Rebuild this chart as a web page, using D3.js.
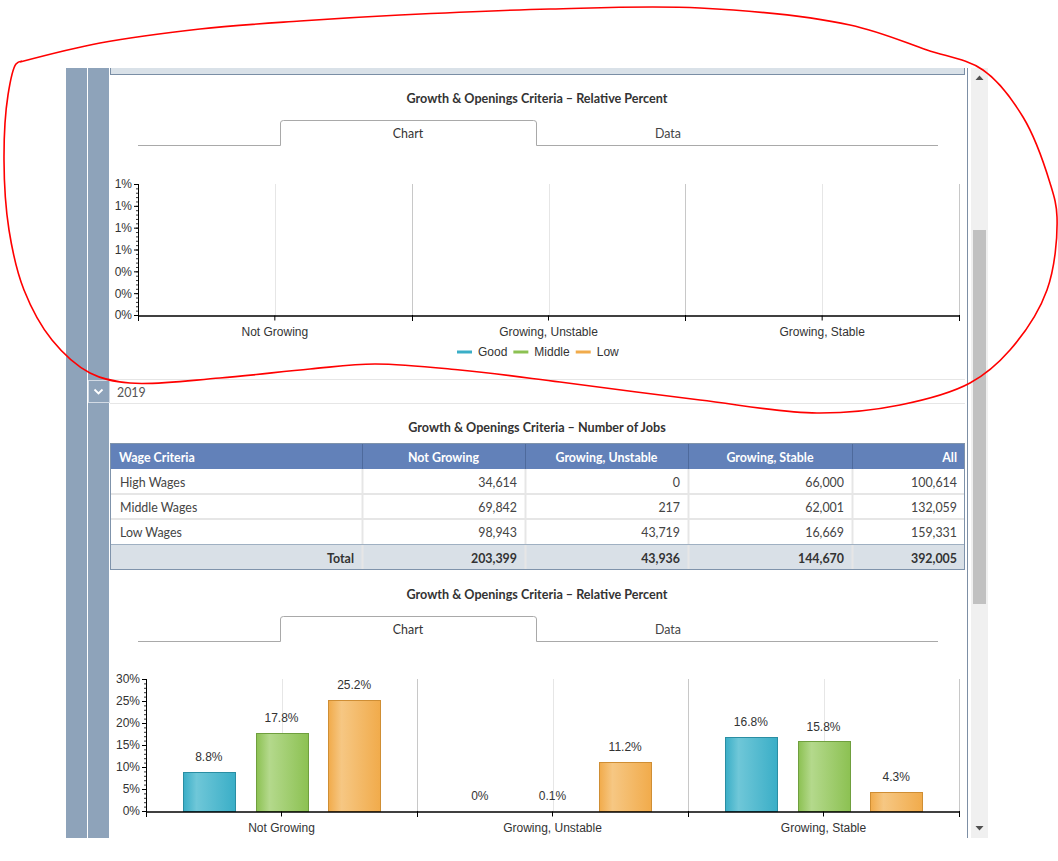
<!DOCTYPE html>
<html>
<head>
<meta charset="utf-8">
<script src="https://cdn.jsdelivr.net/npm/d3@7"></script>
<style>
  body { margin: 0; background: #fff; }
  svg { display: block; }
</style>
</head>
<body>
<script>
var categories = ['Not Growing', 'Growing, Unstable', 'Growing, Stable'];
var seriesNames = ['Good', 'Middle', 'Low'];
var seriesColors = ['#3aaec7', '#8cc152', '#f1ab4b'];
var seriesLight = ['#6fc7d8', '#b4d98c', '#f6c783'];
var seriesStroke = ['#2a8ea3', '#6f9f3e', '#cf8e34'];

// first chart (2018) has no values at all
var emptyGood = [null, null, null];
var emptyMiddle = [null, null, null];
var emptyLow = [null, null, null];
var emptyTicks = [0, 0.2, 0.4, 0.6, 0.8, 1.0, 1.2];

// second chart (2019), relative percent
var pctGood = [8.8, 0, 16.8];
var pctMiddle = [17.8, 0.1, 15.8];
var pctLow = [25.2, 11.2, 4.3];
var pctTicks = [0, 5, 10, 15, 20, 25, 30];

// table, number of jobs
var tableColumns = ['Wage Criteria', 'Not Growing', 'Growing, Unstable', 'Growing, Stable', 'All'];
var wageRows = ['High Wages', 'Middle Wages', 'Low Wages'];
var jobsNotGrowing = [34614, 69842, 98943];
var jobsUnstable = [0, 217, 43719];
var jobsStable = [66000, 62001, 16669];
var jobsAll = [100614, 132059, 159331];
var jobsTotal = [203399, 43936, 144670, 392005];

var uiFont = "Lato, 'Noto Sans', sans-serif";
var chartFont = "'Liberation Sans', Arial, sans-serif";

var svg = d3.select('body').append('svg')
    .attr('width', 1058)
    .attr('height', 861);

var defs = svg.append('defs');
seriesNames.forEach(function(s, i) {
  var gr = defs.append('linearGradient')
      .attr('id', 'grad' + i)
      .attr('x1', '0%').attr('x2', '100%').attr('y1', '0%').attr('y2', '0%');
  gr.append('stop').attr('offset', '0%').attr('stop-color', seriesColors[i]);
  gr.append('stop').attr('offset', '25%').attr('stop-color', seriesLight[i]);
  gr.append('stop').attr('offset', '100%').attr('stop-color', seriesColors[i]);
});

// page frame: side bars, top strip, right border, scrollbar
svg.append('rect').attr('x', 66).attr('y', 68).attr('width', 21).attr('height', 770).attr('fill', '#8ea3ba');
svg.append('rect').attr('x', 88).attr('y', 68).attr('width', 21).attr('height', 770).attr('fill', '#8ea3ba');
svg.append('rect').attr('x', 110).attr('y', 68).attr('width', 855).attr('height', 6)
    .attr('fill', '#d9e1e8');
svg.append('line').attr('x1', 110).attr('x2', 965).attr('y1', 74.5).attr('y2', 74.5).attr('stroke', '#7a8ea5');
svg.append('line').attr('x1', 110.5).attr('x2', 110.5).attr('y1', 68).attr('y2', 75).attr('stroke', '#7a8ea5');
svg.append('line').attr('x1', 964.5).attr('x2', 964.5).attr('y1', 68).attr('y2', 75).attr('stroke', '#7a8ea5');
svg.append('line').attr('x1', 967.5).attr('x2', 967.5).attr('y1', 68).attr('y2', 838).attr('stroke', '#7d8fa5');

svg.append('rect').attr('x', 971).attr('y', 68).attr('width', 17).attr('height', 770).attr('fill', '#f0f0f0');
svg.append('rect').attr('x', 973).attr('y', 230).attr('width', 13).attr('height', 374).attr('fill', '#c1c1c1');
svg.append('path').attr('d', 'M975.5,80 L979.5,75.5 L983.5,80 Z').attr('fill', '#505050');
svg.append('path').attr('d', 'M975.5,826 L979.5,830.5 L983.5,826 Z').attr('fill', '#505050');

function title(y, text) {
  svg.append('text')
      .attr('x', 537).attr('y', y).attr('dy', '0.35em')
      .attr('text-anchor', 'middle')
      .style('font', 'bold 12.6px ' + uiFont)
      .attr('fill', '#333')
      .text(text);
}

function tabs(yTop, yBase) {
  var g = svg.append('g').attr('fill', 'none').attr('stroke', '#a9a9a9');
  g.append('path').attr('d',
      'M138,' + (yBase + 0.5) + ' H280.5 V' + (yTop + 3) +
      ' Q280.5,' + (yTop + 0.5) + ' 283.5,' + (yTop + 0.5) +
      ' H533.5 Q536.5,' + (yTop + 0.5) + ' 536.5,' + (yTop + 3) +
      ' V' + (yBase + 0.5) + ' H938');
  svg.append('text').attr('x', 408).attr('y', yTop + 14).attr('dy', '0.35em')
      .attr('text-anchor', 'middle').style('font', '12.4px ' + uiFont).attr('fill', '#333').text('Chart');
  svg.append('text').attr('x', 668).attr('y', yTop + 14).attr('dy', '0.35em')
      .attr('text-anchor', 'middle').style('font', '12.4px ' + uiFont).attr('fill', '#444').text('Data');
}

function drawChart(opts) {
  var x = d3.scaleBand().domain(categories).range([opts.left, 959]);
  var x1 = d3.scaleBand().domain(seriesNames)
      .range([37, x.bandwidth() - 37]).paddingInner(0.29);
  var ticks = opts.ticks;
  var y = d3.scaleLinear().domain([0, ticks[ticks.length - 1]]).range([opts.bottom, opts.top]);
  var g = svg.append('g');

  // vertical grid lines
  categories.forEach(function(c) {
    g.append('line')
        .attr('x1', Math.round(x(c) + x.bandwidth() / 2) + 0.5)
        .attr('x2', Math.round(x(c) + x.bandwidth() / 2) + 0.5)
        .attr('y1', opts.top).attr('y2', opts.bottom)
        .attr('stroke', '#e6e6e6');
    g.append('line')
        .attr('x1', Math.round(x(c) + x.bandwidth()) + 0.5)
        .attr('x2', Math.round(x(c) + x.bandwidth()) + 0.5)
        .attr('y1', opts.top).attr('y2', opts.bottom)
        .attr('stroke', '#c8c8c8');
  });

  // bars
  var values = [opts.good, opts.middle, opts.low];
  categories.forEach(function(c, ci) {
    seriesNames.forEach(function(s, si) {
      var v = values[si][ci];
      if (v === null) return;
      var bx = x(c) + x1(s);
      if (y(0) - y(v) > 1) {
        g.append('rect')
            .attr('x', Math.round(bx) + 0.5)
            .attr('y', Math.round(y(v)) + 0.5)
            .attr('width', Math.round(x1.bandwidth()))
            .attr('height', Math.round(y(0)) - Math.round(y(v)))
            .attr('fill', 'url(#grad' + si + ')')
            .attr('stroke', seriesStroke[si]);
      }
      g.append('text')
          .attr('x', bx + x1.bandwidth() / 2)
          .attr('y', y(v) - 15).attr('dy', '0.35em')
          .attr('text-anchor', 'middle')
          .style('font', '12px ' + chartFont)
          .attr('fill', '#333')
          .text(v + '%');
    });
  });

  // y axis with minor ticks
  var yMinor = d3.range(0, ticks[ticks.length - 1] + 1e-9, opts.minorStep);
  var minor = g.append('g')
      .attr('transform', 'translate(' + opts.left + ',0)')
      .call(d3.axisLeft(y).tickValues(yMinor).tickSize(2).tickFormat(''));
  minor.select('.domain').remove();
  minor.selectAll('line').attr('stroke', '#333');

  var yAxis = g.append('g')
      .attr('transform', 'translate(' + opts.left + ',0)')
      .call(d3.axisLeft(y).tickValues(ticks).tickSize(4).tickPadding(2)
        .tickFormat(function(d) { return d3.format('.0f')(d) + '%'; }));
  yAxis.select('.domain').attr('stroke', '#000').attr('d', 'M0.5,' + opts.top + 'V' + opts.bottom);
  yAxis.selectAll('text').style('font', '12px ' + chartFont).attr('fill', '#333');

  // x axis
  var xAxis = g.append('g')
      .attr('transform', 'translate(0,' + (opts.bottom + 0.5) + ')')
      .call(d3.axisBottom(x).tickSize(5).tickPadding(7).tickSizeOuter(0));
  xAxis.select('.domain').attr('stroke', '#000').attr('stroke-width', 1.5);
  xAxis.selectAll('line').attr('stroke', '#000');
  xAxis.selectAll('text').style('font', '12px ' + chartFont).attr('fill', '#333');
  categories.forEach(function(c) {
    var bx = Math.round(x(c) + x.bandwidth()) + 0.5;
    g.append('line').attr('x1', bx).attr('x2', bx)
        .attr('y1', opts.bottom).attr('y2', opts.bottom + 6).attr('stroke', '#000');
  });
  g.append('line').attr('x1', opts.left + 0.5).attr('x2', opts.left + 0.5)
      .attr('y1', opts.bottom).attr('y2', opts.bottom + 6).attr('stroke', '#000');

  if (opts.legend) {
    var lg = svg.append('g').style('font', '12px ' + chartFont);
    var lx = 457;
    seriesNames.forEach(function(s, i) {
      lg.append('line').attr('x1', lx).attr('x2', lx + 15)
          .attr('y1', opts.legend).attr('y2', opts.legend)
          .attr('stroke', seriesColors[i]).attr('stroke-width', 3);
      var t = lg.append('text').attr('x', lx + 21).attr('y', opts.legend).attr('dy', '0.35em')
          .attr('fill', '#333').text(s);
      lx += 21 + t.node().getComputedTextLength() + 6;
    });
  }
}

// ---- block 1: empty relative percent chart
title(99, 'Growth & Openings Criteria \u2013 Relative Percent');
tabs(120, 145);
drawChart({ left: 138, top: 184, bottom: 315, ticks: emptyTicks, minorStep: 0.04,
  good: emptyGood, middle: emptyMiddle, low: emptyLow, legend: 352 });

// ---- 2019 row
svg.append('line').attr('x1', 110).attr('x2', 965).attr('y1', 379.5).attr('y2', 379.5).attr('stroke', '#e6e6e6');
svg.append('line').attr('x1', 110).attr('x2', 965).attr('y1', 403.5).attr('y2', 403.5).attr('stroke', '#e6e6e6');
svg.append('rect').attr('x', 88.5).attr('y', 380.5).attr('width', 21).attr('height', 22)
    .attr('fill', '#8ea3ba').attr('stroke', '#d2dae4');
svg.append('path').attr('d', 'M94.5,389.5 L98.5,393.5 L102.5,389.5')
    .attr('fill', 'none').attr('stroke', '#fff').attr('stroke-width', 1.8);
svg.append('text').attr('x', 117).attr('y', 393).attr('dy', '0.35em')
    .style('font', '12.4px ' + uiFont).attr('fill', '#555').text('2019');

// ---- table
title(428, 'Growth & Openings Criteria \u2013 Number of Jobs');
var colEdges = [110, 362, 525, 688, 852, 965];
var rowTops = [469, 494, 519];
var tableData = wageRows.map(function(r, i) {
  return [r, jobsNotGrowing[i], jobsUnstable[i], jobsStable[i], jobsAll[i]];
});
var fmt = d3.format(',');
var tg = svg.append('g').style('font', '12.4px ' + uiFont);

tg.append('rect').attr('x', 110).attr('y', 443).attr('width', 855).attr('height', 26).attr('fill', '#6281b9');
tg.append('rect').attr('x', 110).attr('y', 544).attr('width', 855).attr('height', 26).attr('fill', '#d9e0e7');
colEdges.slice(1, -1).forEach(function(cx) {
  tg.append('line').attr('x1', cx + 0.5).attr('x2', cx + 0.5).attr('y1', 443).attr('y2', 469).attr('stroke', '#4e6a9c');
  tg.append('line').attr('x1', cx + 0.5).attr('x2', cx + 0.5).attr('y1', 469).attr('y2', 570).attr('stroke', '#e6e6e6').attr('stroke-width', 2);
});
[494, 519].forEach(function(ry) {
  tg.append('line').attr('x1', 110).attr('x2', 965).attr('y1', ry).attr('y2', ry).attr('stroke', '#e6e6e6').attr('stroke-width', 2);
});
tg.append('line').attr('x1', 110).attr('x2', 965).attr('y1', 544.5).attr('y2', 544.5).attr('stroke', '#9fb0c2');
tg.append('rect').attr('x', 110.5).attr('y', 443.5).attr('width', 854).attr('height', 126)
    .attr('fill', 'none').attr('stroke', '#7f93ab');

tableColumns.forEach(function(c, i) {
  var t = tg.append('text').attr('y', 458).attr('dy', '0.35em')
      .attr('fill', '#fff').style('font-weight', 'bold').text(c);
  if (i === 0) t.attr('x', colEdges[0] + 9);
  else if (i === tableColumns.length - 1) t.attr('x', colEdges[i + 1] - 8).attr('text-anchor', 'end');
  else t.attr('x', (colEdges[i] + colEdges[i + 1]) / 2).attr('text-anchor', 'middle');
});

tableData.forEach(function(row, ri) {
  row.forEach(function(v, ci) {
    var t = tg.append('text').attr('y', rowTops[ri] + 14).attr('dy', '0.35em').attr('fill', '#444');
    if (ci === 0) t.attr('x', colEdges[0] + 10).text(v);
    else t.attr('x', colEdges[ci + 1] - 8).attr('text-anchor', 'end').text(fmt(v));
  });
});
tg.append('text').attr('x', colEdges[1] - 8).attr('y', 559).attr('dy', '0.35em')
    .attr('text-anchor', 'end').attr('fill', '#333').style('font-weight', 'bold').text('Total');
jobsTotal.forEach(function(v, i) {
  tg.append('text').attr('x', colEdges[i + 2] - 8).attr('y', 559).attr('dy', '0.35em')
      .attr('text-anchor', 'end').attr('fill', '#333').style('font-weight', 'bold').text(fmt(v));
});

// ---- block 2: relative percent chart
title(595, 'Growth & Openings Criteria \u2013 Relative Percent');
tabs(616, 641);
drawChart({ left: 146, top: 679, bottom: 811, ticks: pctTicks, minorStep: 1,
  good: pctGood, middle: pctMiddle, low: pctLow, legend: null });

// red hand-drawn annotation around the first chart
var annotation = [[22, 61], [16, 64], [8, 95], [4, 160], [9, 230], [24, 290], [52, 340], [90, 373],
  [130, 383], [220, 378], [310, 369], [375, 364], [460, 370], [560, 382], [700, 400], [817, 413],
  [900, 405], [970, 383], [1010, 350], [1047, 290], [1057, 217], [1050, 183], [1023, 117],
  [983, 70], [927, 50], [850, 25], [700, 8], [550, 9], [400, 15], [300, 21], [200, 29], [100, 43], [20, 62]];
svg.append('path')
    .attr('d', d3.line().curve(d3.curveCatmullRom)(annotation))
    .attr('fill', 'none').attr('stroke', '#f00').attr('stroke-width', 1.6);
</script>
</body>
</html>
